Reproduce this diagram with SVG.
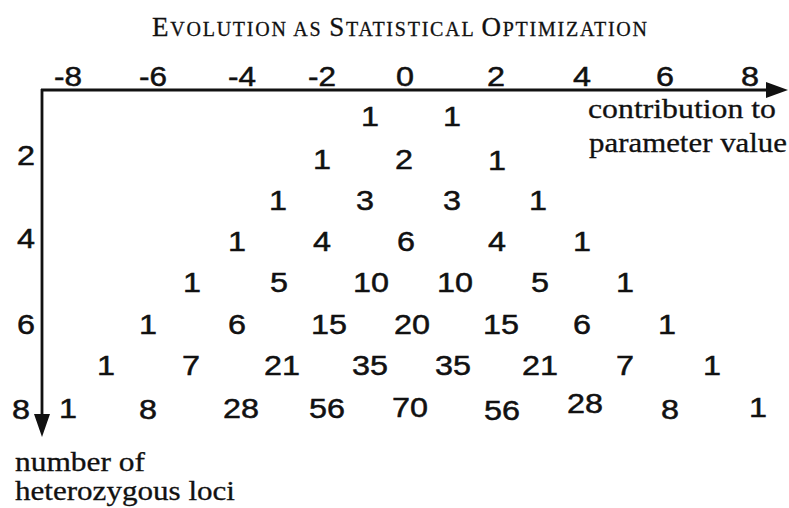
<svg xmlns="http://www.w3.org/2000/svg" width="789" height="508" viewBox="0 0 789 508">
<style>
.n,.ax,.ry{font-family:"Liberation Sans",Arial,sans-serif;font-size:28px;fill:#111;stroke:#111;stroke-width:0.5;text-anchor:middle}
.lab{font-family:"Liberation Serif","Times New Roman",serif;font-size:27px;fill:#111;stroke:#111;stroke-width:0.3}
.tt{font-family:"Liberation Serif","Times New Roman",serif;fill:#111;stroke:#111;stroke-width:0.3}
.big{font-size:27px}
.sm{font-size:20px}
.axis{stroke:#111;stroke-width:2.8;fill:none}
</style>
<rect width="789" height="508" fill="#fff"/>
<g id="title">
<text class="tt" x="152" y="36" textLength="495" lengthAdjust="spacing"><tspan class="big">E</tspan><tspan class="sm">VOLUTION AS </tspan><tspan class="big">S</tspan><tspan class="sm">TATISTICAL </tspan><tspan class="big">O</tspan><tspan class="sm">PTIMIZATION</tspan></text>
</g>
<g id="connectors">
<line class="axis" x1="41" y1="90" x2="770" y2="90"/>
<polygon points="788,90 766,82 766,98" fill="#111"/>
<line class="axis" x1="42" y1="89" x2="42" y2="418"/>
<polygon points="42,437 34,414 50,414" fill="#111"/>
</g>
<g id="x-axis-labels">
<text class="ax" x="68" y="86" textLength="28" lengthAdjust="spacingAndGlyphs">-8</text>
<text class="ax" x="153" y="86" textLength="28" lengthAdjust="spacingAndGlyphs">-6</text>
<text class="ax" x="242" y="86" textLength="28" lengthAdjust="spacingAndGlyphs">-4</text>
<text class="ax" x="322" y="86" textLength="28" lengthAdjust="spacingAndGlyphs">-2</text>
<text class="ax" x="405" y="86" textLength="18" lengthAdjust="spacingAndGlyphs">0</text>
<text class="ax" x="496" y="86" textLength="18" lengthAdjust="spacingAndGlyphs">2</text>
<text class="ax" x="582" y="86" textLength="18" lengthAdjust="spacingAndGlyphs">4</text>
<text class="ax" x="665" y="86" textLength="18" lengthAdjust="spacingAndGlyphs">6</text>
<text class="ax" x="750" y="86" textLength="18" lengthAdjust="spacingAndGlyphs">8</text>
</g>
<g id="x-axis-title">
<text class="lab" x="588" y="118" font-size="28" textLength="188" lengthAdjust="spacingAndGlyphs">contribution to</text>
<text class="lab" x="589" y="152" font-size="28" textLength="198" lengthAdjust="spacingAndGlyphs">parameter value</text>
</g>
<g id="y-axis-labels">
<text class="ry" x="26" y="165" textLength="18" lengthAdjust="spacingAndGlyphs">2</text>
<text class="ry" x="26" y="248" textLength="18" lengthAdjust="spacingAndGlyphs">4</text>
<text class="ry" x="26" y="334" textLength="18" lengthAdjust="spacingAndGlyphs">6</text>
<text class="ry" x="21" y="419" textLength="18" lengthAdjust="spacingAndGlyphs">8</text>
</g>
<g id="y-axis-title">
<text class="lab" x="15" y="471" font-size="26" textLength="130" lengthAdjust="spacingAndGlyphs">number of</text>
<text class="lab" x="15" y="500" font-size="26" textLength="220" lengthAdjust="spacingAndGlyphs">heterozygous loci</text>
</g>
<g id="row1">
<text class="n" x="370" y="126" textLength="18" lengthAdjust="spacingAndGlyphs">1</text>
<text class="n" x="452" y="126" textLength="18" lengthAdjust="spacingAndGlyphs">1</text>
</g>
<g id="row2">
<text class="n" x="322" y="169" textLength="18" lengthAdjust="spacingAndGlyphs">1</text>
<text class="n" x="404" y="169" textLength="18" lengthAdjust="spacingAndGlyphs">2</text>
<text class="n" x="497" y="170" textLength="18" lengthAdjust="spacingAndGlyphs">1</text>
</g>
<g id="row3">
<text class="n" x="278" y="210" textLength="18" lengthAdjust="spacingAndGlyphs">1</text>
<text class="n" x="365" y="210" textLength="18" lengthAdjust="spacingAndGlyphs">3</text>
<text class="n" x="452" y="210" textLength="18" lengthAdjust="spacingAndGlyphs">3</text>
<text class="n" x="538" y="210" textLength="18" lengthAdjust="spacingAndGlyphs">1</text>
</g>
<g id="row4">
<text class="n" x="237" y="251" textLength="18" lengthAdjust="spacingAndGlyphs">1</text>
<text class="n" x="322" y="251" textLength="18" lengthAdjust="spacingAndGlyphs">4</text>
<text class="n" x="406" y="251" textLength="18" lengthAdjust="spacingAndGlyphs">6</text>
<text class="n" x="497" y="251" textLength="18" lengthAdjust="spacingAndGlyphs">4</text>
<text class="n" x="582" y="251" textLength="18" lengthAdjust="spacingAndGlyphs">1</text>
</g>
<g id="row5">
<text class="n" x="192" y="292" textLength="18" lengthAdjust="spacingAndGlyphs">1</text>
<text class="n" x="279" y="292" textLength="18" lengthAdjust="spacingAndGlyphs">5</text>
<text class="n" x="371" y="292" textLength="36" lengthAdjust="spacingAndGlyphs">10</text>
<text class="n" x="455" y="292" textLength="36" lengthAdjust="spacingAndGlyphs">10</text>
<text class="n" x="540" y="292" textLength="18" lengthAdjust="spacingAndGlyphs">5</text>
<text class="n" x="625" y="292" textLength="18" lengthAdjust="spacingAndGlyphs">1</text>
</g>
<g id="row6">
<text class="n" x="148" y="334" textLength="18" lengthAdjust="spacingAndGlyphs">1</text>
<text class="n" x="237" y="334" textLength="18" lengthAdjust="spacingAndGlyphs">6</text>
<text class="n" x="329" y="334" textLength="36" lengthAdjust="spacingAndGlyphs">15</text>
<text class="n" x="412" y="334" textLength="36" lengthAdjust="spacingAndGlyphs">20</text>
<text class="n" x="501" y="334" textLength="36" lengthAdjust="spacingAndGlyphs">15</text>
<text class="n" x="582" y="334" textLength="18" lengthAdjust="spacingAndGlyphs">6</text>
<text class="n" x="667" y="334" textLength="18" lengthAdjust="spacingAndGlyphs">1</text>
</g>
<g id="row7">
<text class="n" x="106" y="375" textLength="18" lengthAdjust="spacingAndGlyphs">1</text>
<text class="n" x="191" y="375" textLength="18" lengthAdjust="spacingAndGlyphs">7</text>
<text class="n" x="282" y="375" textLength="36" lengthAdjust="spacingAndGlyphs">21</text>
<text class="n" x="370" y="375" textLength="36" lengthAdjust="spacingAndGlyphs">35</text>
<text class="n" x="453" y="375" textLength="36" lengthAdjust="spacingAndGlyphs">35</text>
<text class="n" x="540" y="375" textLength="36" lengthAdjust="spacingAndGlyphs">21</text>
<text class="n" x="625" y="375" textLength="18" lengthAdjust="spacingAndGlyphs">7</text>
<text class="n" x="712" y="375" textLength="18" lengthAdjust="spacingAndGlyphs">1</text>
</g>
<g id="row8">
<text class="n" x="68" y="418" textLength="18" lengthAdjust="spacingAndGlyphs">1</text>
<text class="n" x="148" y="419" textLength="18" lengthAdjust="spacingAndGlyphs">8</text>
<text class="n" x="241" y="418" textLength="36" lengthAdjust="spacingAndGlyphs">28</text>
<text class="n" x="327" y="418" textLength="36" lengthAdjust="spacingAndGlyphs">56</text>
<text class="n" x="410" y="417" textLength="36" lengthAdjust="spacingAndGlyphs">70</text>
<text class="n" x="502" y="420" textLength="36" lengthAdjust="spacingAndGlyphs">56</text>
<text class="n" x="585" y="413" textLength="36" lengthAdjust="spacingAndGlyphs">28</text>
<text class="n" x="670" y="419" textLength="18" lengthAdjust="spacingAndGlyphs">8</text>
<text class="n" x="758" y="417" textLength="18" lengthAdjust="spacingAndGlyphs">1</text>
</g>
</svg>
